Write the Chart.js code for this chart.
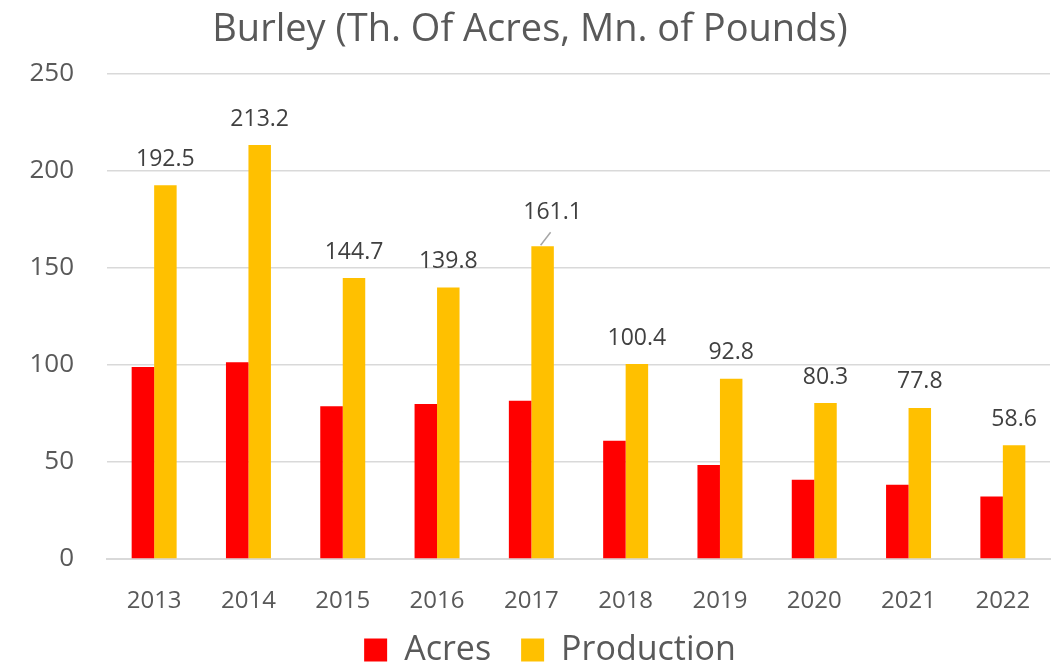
<!DOCTYPE html>
<html>
<head>
<meta charset="utf-8">
<script src="https://cdn.jsdelivr.net/npm/chart.js@4"></script>
<style>
  html, body { margin: 0; padding: 0; background: #fff; }
  #wrap { width: 1059px; height: 664px; }
</style>
</head>
<body>
<div id="wrap"><canvas id="myChart" width="1059" height="664"></canvas></div>
<script>
const years = ["2013", "2014", "2015", "2016", "2017", "2018", "2019", "2020", "2021", "2022"];
const acres = [98.9, 101.3, 78.7, 79.8, 81.5, 60.9, 48.4, 40.8, 38.2, 32.2];
const production = [192.5, 213.2, 144.7, 139.8, 161.1, 100.4, 92.8, 80.3, 77.8, 58.6];
const yTicks = [0, 50, 100, 150, 200, 250];

const FONT = "'Open Sans', 'Noto Sans', sans-serif";

// labels above the production bars
const barLabels = {
  id: "barLabels",
  afterDatasetsDraw(chart) {
    const ctx = chart.ctx;
    const meta = chart.getDatasetMeta(1);
    ctx.save();
    ctx.font = "23px " + FONT;
    ctx.fillStyle = "#404040";
    ctx.textAlign = "center";
    ctx.textBaseline = "middle";
    meta.data.forEach((bar, i) => {
      let x = bar.x;
      let y = bar.y - 26;
      if (i === 4) {
        // this one sits a bit off, with a leader line
        x = bar.x + 10;
        y = bar.y - 34;
        ctx.strokeStyle = "#a6a6a6";
        ctx.lineWidth = 1.5;
        ctx.beginPath();
        ctx.moveTo(bar.x - 2, bar.y - 1);
        ctx.lineTo(bar.x + 8, bar.y - 14);
        ctx.stroke();
      }
      ctx.fillText(production[i].toFixed(1), x, y);
    });
    ctx.restore();
  }
};

// x labels sit partly in the legend's padding, so don't clip them;
// legend is centred a little right of the canvas middle
const fixLayout = {
  id: "fixLayout",
  afterLayout(chart) {
    chart.scales.x.bottom = chart.height;
    chart.legend.left += 20;
    chart.legend.right += 20;
  }
};

document.addEventListener("DOMContentLoaded", () => {
  const ctx = document.getElementById("myChart").getContext("2d");
  new Chart(ctx, {
    type: "bar",
    data: {
      labels: years,
      datasets: [
        {
          label: "Acres",
          data: acres,
          backgroundColor: "#ff0000",
          categoryPercentage: 0.477,
          barPercentage: 1.0,
        },
        {
          label: "Production",
          data: production,
          backgroundColor: "#ffc000",
          categoryPercentage: 0.477,
          barPercentage: 1.0,
        },
      ],
    },
    options: {
      responsive: false,
      animation: false,
      layout: { padding: { left: 10, right: 9, top: 0, bottom: -13 } },
      plugins: {
        title: {
          display: true,
          text: "Burley (Th. Of Acres, Mn. of Pounds)",
          color: "#595959",
          font: { family: FONT, size: 38, weight: "normal" },
          padding: { top: 7, bottom: 21 },
        },
        legend: {
          position: "bottom",
          labels: {
            color: "#595959",
            font: { family: FONT, size: 34 },
            boxWidth: 23,
            boxHeight: 23,
            padding: 30,
          },
        },
        tooltip: { enabled: false },
      },
      scales: {
        x: {
          grid: { display: false },
          border: { display: true, color: "#d9d9d9", width: 2 },
          ticks: { color: "#595959", font: { family: FONT, size: 24 }, padding: 20 },
          afterFit: (axis) => { axis.height = 44; },
        },
        y: {
          min: 0,
          max: 250,
          afterBuildTicks: (axis) => { axis.ticks = yTicks.map((v) => ({ value: v })); },
          afterFit: (axis) => { axis.width = 97; },
          grid: { color: "#d9d9d9", lineWidth: 1.5, drawTicks: false },
          border: { display: false },
          ticks: { color: "#595959", font: { family: FONT, size: 26 }, padding: 33 },
        },
      },
    },
    plugins: [barLabels, fixLayout],
  });
});
</script>
</body>
</html>
